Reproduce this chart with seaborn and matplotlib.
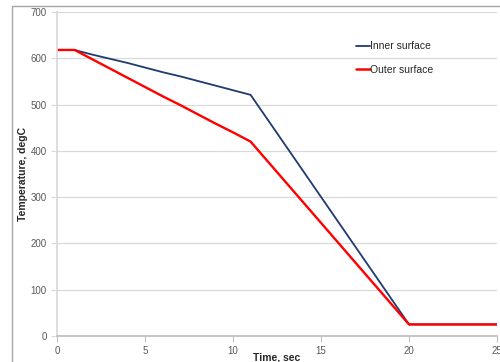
import numpy as np
import pandas as pd
import matplotlib
matplotlib.use("Agg")
import matplotlib.pyplot as plt
from matplotlib.patches import Rectangle
import seaborn as sns

sns.set_theme(style="white")
plt.rcParams['font.family'] = ['Liberation Sans', 'DejaVu Sans']

# values
time_s = [0, 1, 2, 3, 4, 5, 6, 7, 8, 9, 10, 11, 20, 25]
inner_temp = [618, 618, 608, 599, 590, 580, 570, 561, 551, 541, 531, 521, 25, 25]
outer_temp = [618, 618, 598, 578, 558, 538, 518, 499, 479, 459, 440, 420, 25, 25]
series = ["Inner surface", "Outer surface"]
colors = {"Inner surface": "#1F3A70", "Outer surface": "#FF0000"}

df = pd.DataFrame({
    "time": time_s * 2,
    "temp": inner_temp + outer_temp,
    "series": [series[0]] * len(time_s) + [series[1]] * len(time_s),
})

fig = plt.figure(figsize=(5, 3.62), dpi=100)
# outer chart frame (cropped like the original)
fig.patches.append(Rectangle((12 / 500, -0.1), 1.2, (362 - 6) / 362 + 0.1,
                             transform=fig.transFigure, fill=False,
                             edgecolor="#A6A6A6", linewidth=1.0))
ax = fig.add_axes([57 / 500, 1 - 336 / 362, 440 / 500, 324 / 362])

sns.lineplot(data=df, x="time", y="temp", hue="series", palette=colors,
             ax=ax, sort=False, estimator=None)
for line, lw in zip(ax.lines, [1.3, 1.7]):
    line.set_linewidth(lw)

ax.set_xlim(0, 25)
ax.set_ylim(0, 700)
ax.set_xticks(range(0, 26, 5))
ax.set_yticks(range(0, 701, 100))
ax.yaxis.grid(True, color="#D9D9D9", linewidth=0.9)
ax.xaxis.grid(False)
for s in ["top", "right"]:
    ax.spines[s].set_visible(False)
ax.spines["left"].set_color("#D9D9D9")
ax.spines["bottom"].set_color("#BFBFBF")
ax.tick_params(axis="both", labelsize=7, colors="#595959", length=4,
               width=0.8, direction="out", bottom=True, left=True)
ax.tick_params(axis="x", colors="#BFBFBF", labelcolor="#595959")
ax.tick_params(axis="y", colors="#D9D9D9", labelcolor="#595959")

ax.set_xlabel("Time, sec", fontsize=7.5, fontweight="bold", labelpad=-3)
ax.set_ylabel("Temperature, degC", fontsize=7.5, fontweight="bold", labelpad=2)

leg = ax.legend(loc="upper left", bbox_to_anchor=(347 / 500, 1 - 32 / 362),
                bbox_transform=fig.transFigure, frameon=False, fontsize=7.5,
                handlelength=1.3, handletextpad=0.05, labelspacing=1.3)
for h in leg.legend_handles:
    h.set_linewidth(1.3)
leg.legend_handles[1].set_linewidth(1.8)

fig.savefig("out.png", dpi=100)
